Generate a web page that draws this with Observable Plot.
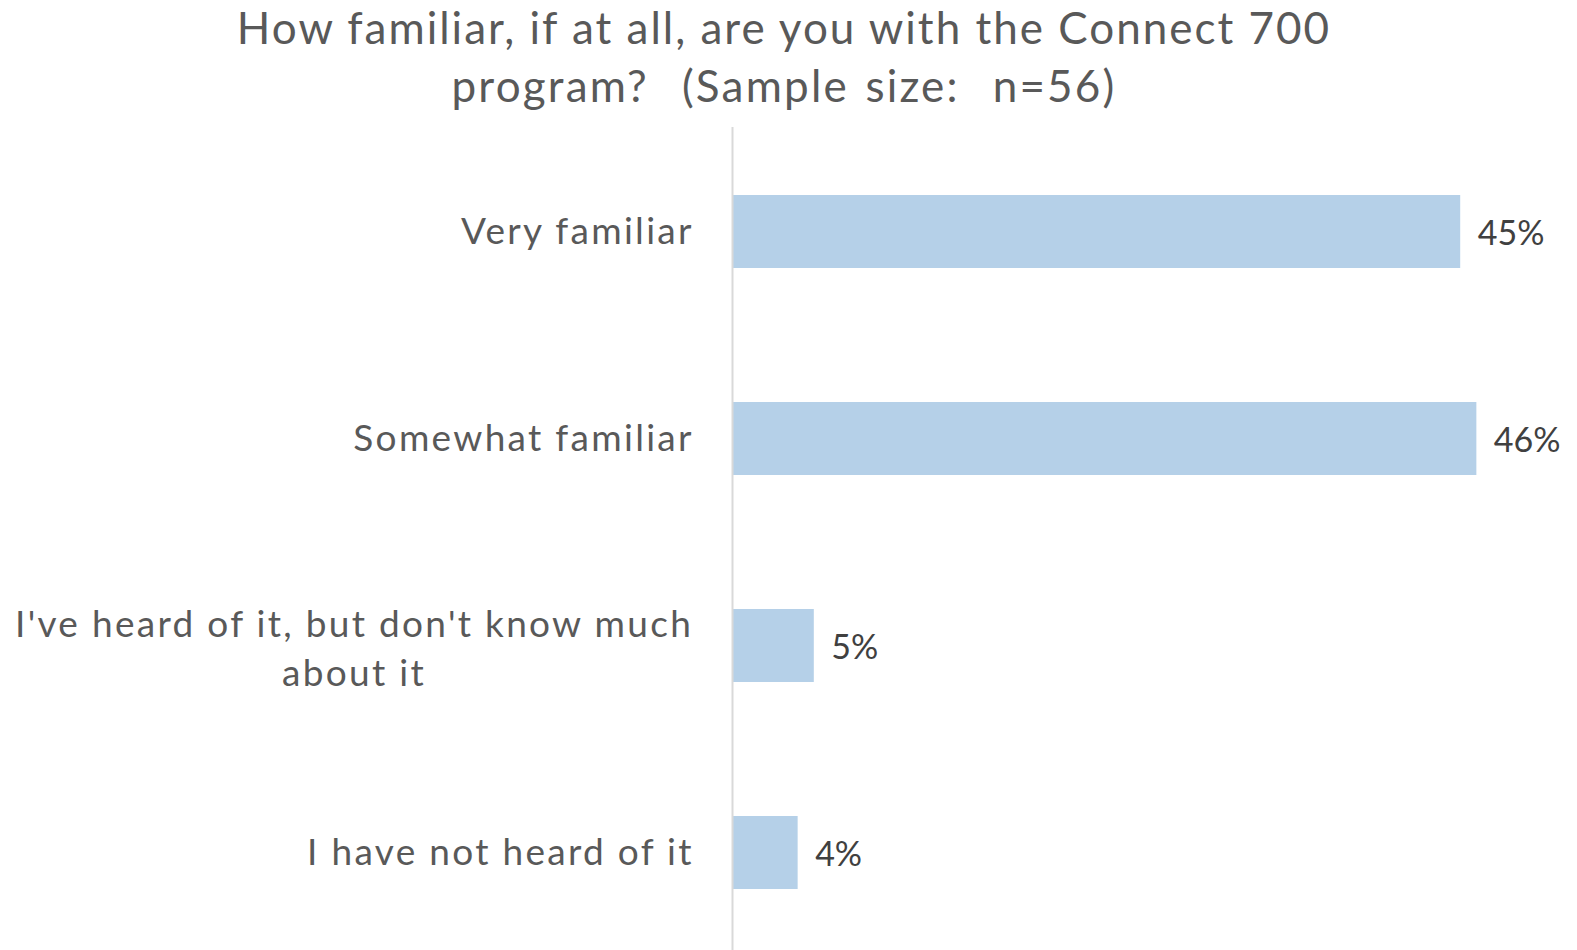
<!DOCTYPE html>
<html>
<head>
<meta charset="utf-8">
<script src="https://cdn.jsdelivr.net/npm/d3@7"></script>
<script src="https://cdn.jsdelivr.net/npm/@observablehq/plot@0.6"></script>
<style>
  html, body { margin: 0; padding: 0; background: #fff; overflow: hidden; }
  #title {
    height: 127px; box-sizing: border-box; margin-top: -2px;
    text-align: center; font-family: Lato, sans-serif; font-size: 44px;
    letter-spacing: 2.0px;
    line-height: 58px; color: #595959; white-space: pre; width: 1568px;
  }
  #title .l2 { word-spacing: 3px; letter-spacing: 2.2px; }
  #chart svg { display: block; margin-top: 2px; }
  #chart g[font-size="37"] { letter-spacing: 2.3px; }
</style>
</head>
<body>
<div id="title"><div class="l1">How familiar, if at all, are you with the Connect 700</div><div class="l2">program?  (Sample size:  n=56)</div></div>
<div id="chart"></div>
<script>
const categories = [
  "Very familiar",
  "Somewhat familiar",
  "I've heard of it, but don't know much\nabout it",
  "I have not heard of it"
];
const values = [45, 46, 5, 4];
const valueLabels = ["45%", "46%", "5%", "4%"];

const data = categories.map((c, i) => ({category: c, value: values[i], label: valueLabels[i]}));

const FONT = "Lato, sans-serif";
const LABEL_SIZE = 37;
const LS = 2.3;
const GAP = 42;

// measure widest line of wrapped labels so they can be centered like the original
const ctx = document.createElement("canvas").getContext("2d");
ctx.font = `${LABEL_SIZE}px ${FONT}`;
function boxWidth(s) {
  return Math.max(...s.split("\n").map(l => ctx.measureText(l).width + l.length * LS));
}

const single = data.filter(d => !d.category.includes("\n"));
const multi = data.filter(d => d.category.includes("\n"));

const plot = Plot.plot({
  width: 1577,
  height: 830,
  marginTop: 0,
  marginBottom: 0,
  marginLeft: 733,
  marginRight: 36,
  style: {fontFamily: FONT, background: "transparent", overflow: "visible"},
  x: {domain: [0, 50], axis: null},
  y: {domain: categories, axis: null, paddingInner: 0.648, paddingOuter: 0.324},
  marks: [
    Plot.barX(data, {y: "category", x: "value", fill: "#b5d0e8"}),
    Plot.ruleX([0], {stroke: "#d9d9d9", strokeWidth: 2, dx: -1}),
    Plot.text(data, {y: "category", x: "value", text: "label", textAnchor: "start", dx: 17, dy: 2,
      fontSize: 34, fill: "#404040"}),
    Plot.text(single, {y: "category", x: 0, text: "category", textAnchor: "end", dx: -GAP + LS,
      fontSize: LABEL_SIZE, fill: "#595959"}),
    ...multi.map(d => Plot.text([d], {y: "category", x: 0, text: "category", textAnchor: "middle",
      dx: -GAP - boxWidth(d.category) / 2 + LS, lineHeight: 1.32,
      fontSize: LABEL_SIZE, fill: "#595959"}))
  ]
});
document.getElementById("chart").appendChild(plot);
</script>
</body>
</html>
